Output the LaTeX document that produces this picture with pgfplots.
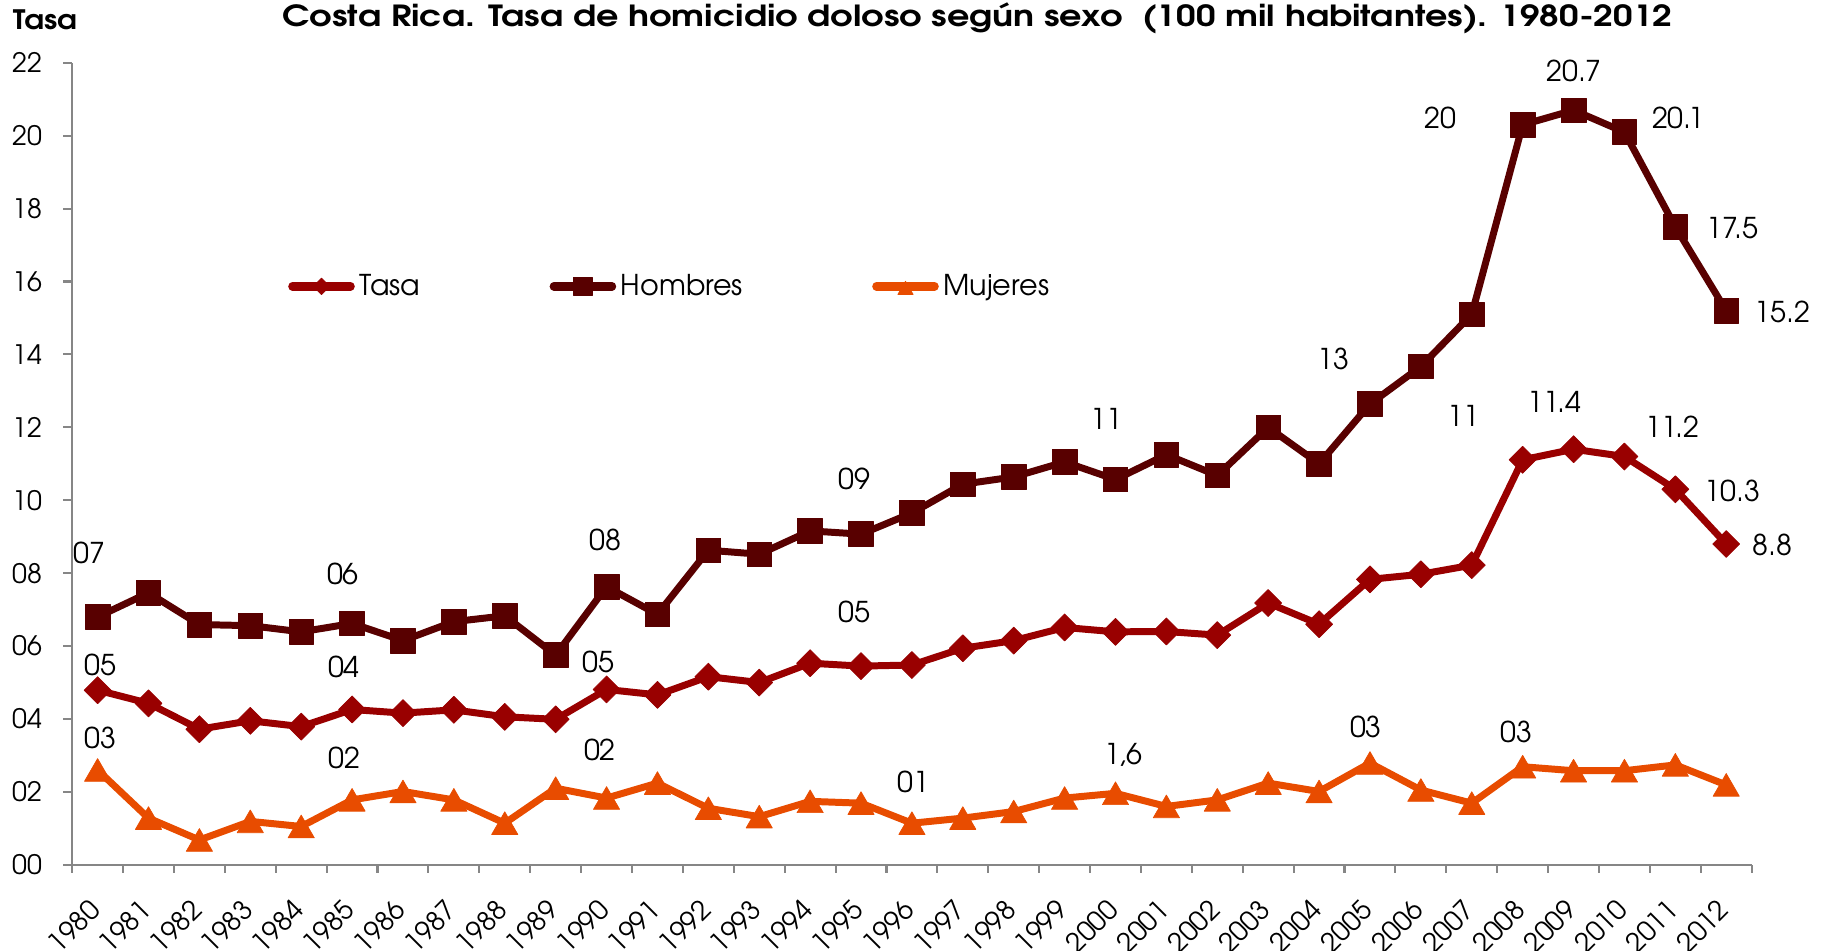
\documentclass[border=0pt]{standalone}
\usepackage{fontspec}
\setmainfont{texgyreadventor}[Extension=.otf, UprightFont=*-regular, BoldFont=*-bold, ItalicFont=*-italic, BoldItalicFont=*-bolditalic]
\usepackage{graphicx}
\usepackage{pgfplots}
\pgfplotsset{compat=1.18}
\usepackage{pgfplotstable}
\definecolor{tasa}{RGB}{153,0,0}
\definecolor{homb}{RGB}{88,0,0}
\definecolor{muj}{RGB}{232,76,0}
\definecolor{axgray}{RGB}{134,134,134}
\pgfplotstableread{
i t h m
0 4.79 6.80 2.60
1 4.43 7.46 1.28
2 3.72 6.59 0.68
3 3.95 6.56 1.19
4 3.79 6.39 1.05
5 4.26 6.62 1.78
6 4.16 6.15 2.01
7 4.25 6.67 1.78
8 4.06 6.83 1.14
9 3.99 5.75 2.10
10 4.81 7.63 1.83
11 4.66 6.87 2.24
12 5.16 8.63 1.55
13 5.00 8.52 1.32
14 5.53 9.16 1.74
15 5.45 9.07 1.69
16 5.48 9.65 1.14
17 5.94 10.44 1.28
18 6.15 10.64 1.46
19 6.51 11.05 1.83
20 6.39 10.57 1.96
21 6.40 11.25 1.60
22 6.30 10.68 1.78
23 7.18 12.00 2.24
24 6.60 11.00 2.01
25 7.83 12.64 2.79
26 7.97 13.67 2.05
27 8.22 15.10 1.69
28 11.11 20.30 2.69
29 11.40 20.70 2.58
30 11.20 20.10 2.58
31 10.30 17.50 2.74
32 8.80 15.20 2.19
}\datatable
\begin{document}
\begin{tikzpicture}
\begin{axis}[
  scale only axis, width=721.5pt, height=344.5pt,
  xmin=-0.5, xmax=32.5, ymin=0, ymax=22,
  axis lines*=left,
  axis line style={axgray, line width=0.9pt, -},
  clip=false,
  font=\fontsize{11}{13}\selectfont,
  /pgf/number format/assume math mode=true,
  xtick={0,...,32},
  xticklabels={1980,1981,1982,1983,1984,1985,1986,1987,1988,1989,1990,1991,1992,1993,1994,1995,1996,1997,1998,1999,2000,2001,2002,2003,2004,2005,2006,2007,2008,2009,2010,2011,2012},
  major x tick style={draw=none},
  minor xtick={-0.5,0.5,...,32.5},
  minor x tick style={axgray, line width=0.9pt},
  ytick={0,2,...,22},
  yticklabels={00,02,04,06,08,10,12,14,16,18,20,22},
  y tick style={axgray, line width=0.9pt},
  tick align=outside,
  major tick length=3.8pt, minor tick length=3.5pt,
  xticklabel style={xshift=-4.3pt, yshift=-8.8pt, rotate=45, anchor=north east, inner sep=1pt, font=\fontsize{11.5}{13}\selectfont},
  yticklabel style={font=\fontsize{11.5}{13}\selectfont, inner sep=0pt, xshift=-9pt},
  legend columns=3,
  legend style={draw=none, fill=none, at={(0.1242,0.7213)}, anchor=west, font=\fontsize{12.3}{14}\selectfont, /tikz/every even column/.append style={column sep=53.5pt}},
  legend image code/.code={\draw[line width=3.6pt, line cap=round, mark repeat=2,mark phase=2] plot coordinates {(0pt,0pt) (12.5pt,0pt) (25pt,0pt)};},
  every axis plot/.append style={line width=3pt, line join=round},
]
\addplot[tasa, mark=square*, mark size=4.1pt, mark options={fill=tasa, draw=tasa, line width=0.3pt, rotate=45}, legend image post style={mark size=2.5pt}] table[x=i, y=t] {\datatable};
\addlegendentry{Tasa}
\addplot[homb, mark=square*, mark size=5.3pt, mark options={fill=homb, draw=homb, line width=0.3pt}, legend image post style={mark size=4pt}] table[x=i, y=h] {\datatable};
\addlegendentry{Hombres}
\addplot[muj, mark=triangle*, mark size=6.5pt, mark options={fill=muj, draw=muj, line width=0.3pt, yshift=-1.6pt}, legend image post style={mark size=3.8pt}] table[x=i, y=m] {\datatable};
\addlegendentry{Mujeres}
% data labels
\begin{scope}[every node/.style={font=\fontsize{12.3}{14}\selectfont, inner sep=0pt}]
\node at (axis cs:-0.16,8.56) {07};
\node at (axis cs:4.82,7.98) {06};
\node at (axis cs:9.98,8.91) {08};
\node at (axis cs:14.87,10.58) {09};
\node at (axis cs:19.83,12.23) {11};
\node at (axis cs:24.28,13.89) {13};
\node at (axis cs:26.38,20.50) {20};
\node at (axis cs:29.01,21.78) {20.7};
\node at (axis cs:31.06,20.50) {20.1};
\node at (axis cs:32.12,17.47) {17.5};
\node at (axis cs:33.10,15.17) {15.2};
\node at (axis cs:0.05,5.48) {05};
\node at (axis cs:4.84,5.44) {04};
\node at (axis cs:9.84,5.57) {05};
\node at (axis cs:14.87,6.93) {05};
\node at (axis cs:26.84,12.31) {11};
\node at (axis cs:28.62,12.71) {11.4};
\node at (axis cs:30.95,12.02) {11.2};
\node at (axis cs:32.12,10.25) {10.3};
\node at (axis cs:32.91,8.78) {8.8};
\node at (axis cs:0.05,3.48) {03};
\node at (axis cs:4.85,2.92) {02};
\node at (axis cs:9.87,3.14) {02};
\node at (axis cs:16.03,2.28) {01};
\node at (axis cs:20.15,3.01) {1,6};
\node at (axis cs:24.92,3.79) {03};
\node at (axis cs:27.87,3.65) {03};
\end{scope}
\node[anchor=base, inner sep=0pt] at ([yshift=15.5pt]rel axis cs:0.539,1) {\resizebox{597pt}{\height}{\bfseries\fontsize{12.5}{14}\selectfont Costa Rica. Tasa de homicidio doloso según sexo\ \ (100 mil habitantes). 1980-2012}};
\node[inner sep=0pt] at ([xshift=-11.75pt, yshift=18.5pt]rel axis cs:0,1) {\resizebox{27.5pt}{\height}{\bfseries\fontsize{11.5}{13}\selectfont Tasa}};
\end{axis}
\pgfresetboundingbox
\path[use as bounding box] ([shift={(-31pt,-37pt)}]current axis.south west) rectangle ([shift={(31.5pt,27pt)}]current axis.north east);
\end{tikzpicture}
\end{document}
